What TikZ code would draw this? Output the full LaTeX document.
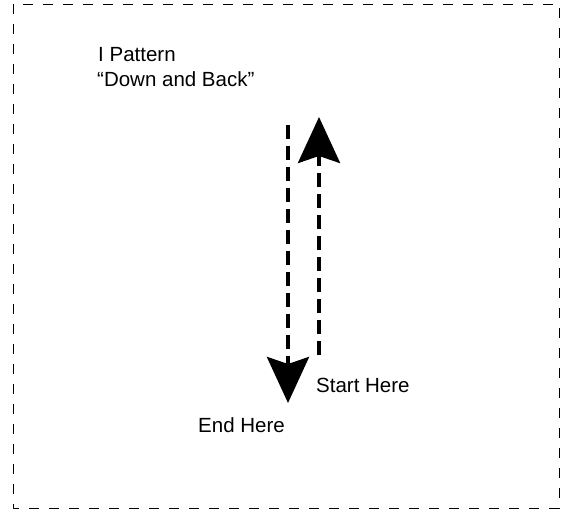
\documentclass[tikz,border=0pt]{standalone}
\usepackage{fontspec}
\setmainfont{Liberation Sans}
\usetikzlibrary{arrows.meta}
\tikzset{
  frameline/.style={line width=0.9bp, dash pattern=on 10bp off 10bp},
  walkline/.style={line width=4bp, dash pattern=on 14bp off 7bp,
    -{Stealth[length=46bp,width=42bp,inset=7bp]}},
  label/.style={anchor=base west, inner sep=0pt, font=\fontsize{20.5bp}{26bp}\selectfont},
}
\begin{document}
\begin{tikzpicture}[x=1bp,y=1bp,line join=bevel]
  \useasboundingbox (0,0) rectangle (566,514);
%%
  % Frame
  \draw [frameline] (13,510) rectangle (559,6);
  % Node: title
  \node [label] (title) at (98,452) {I Pattern};
  \node [label] (subtitle) at (97,427) {“Down and Back”};
  % Ends of the walk
  \coordinate (downtop) at (288,389);
  \coordinate (downtip) at (288,111);
  \coordinate (upfoot) at (319,159);
  \coordinate (uptip) at (319,397);
  % Edge: start -> back up
  \draw [walkline] (upfoot) -- (uptip);
  % Edge: down -> end
  \draw [walkline] (downtop) -- (downtip);
  % Node: start, end
  \node [label] (start) at (316,121) {Start Here};
  \node [label] (finish) at (198,81) {End Here};
%
\end{tikzpicture}
\end{document}
